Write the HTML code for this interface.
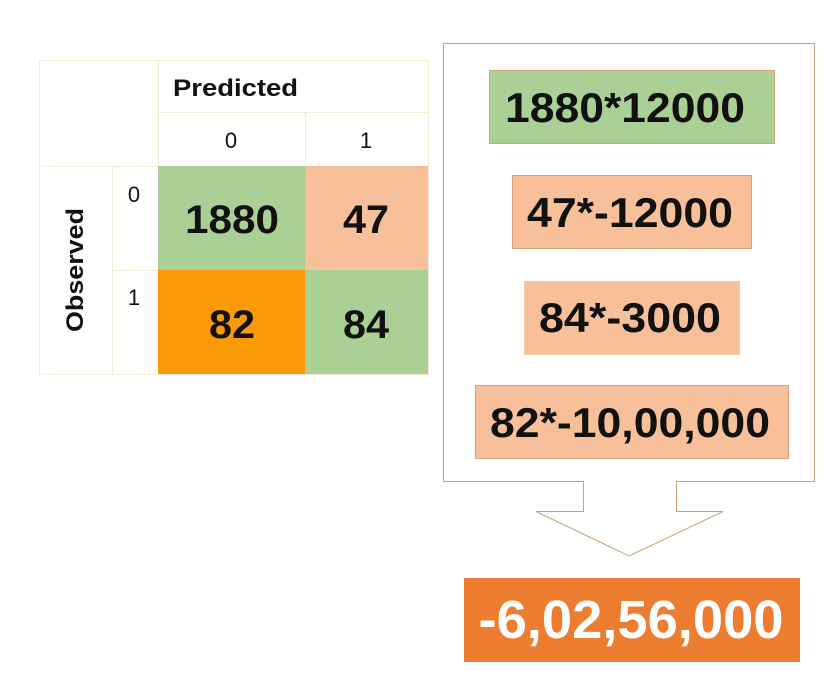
<!DOCTYPE html>
<html><head><meta charset="utf-8">
<style>
html,body{margin:0;padding:0;background:#fff;}
svg{display:block;font-family:"Liberation Sans",sans-serif;}
</style></head>
<body>
<svg width="834" height="687" viewBox="0 0 834 687">
  <g stroke="#f3ecd8" stroke-width="1">
    <rect x="39.5" y="60.5" width="389" height="314" fill="#fff"/>
    <line x1="158.5" y1="60" x2="158.5" y2="374"/>
    <line x1="112.5" y1="166" x2="112.5" y2="374"/>
    <line x1="158" y1="112.5" x2="428" y2="112.5"/>
    <line x1="39" y1="166.5" x2="428" y2="166.5"/>
    <line x1="305.5" y1="112" x2="305.5" y2="166"/>
    <line x1="112" y1="270.5" x2="158" y2="270.5"/>
    <rect x="158" y="166" width="147" height="104" fill="#abd096" stroke="none"/>
    <rect x="305" y="166" width="123" height="104" fill="#f7c09a" stroke="none"/>
    <rect x="158" y="270" width="147" height="104" fill="#fb9906" stroke="none"/>
    <rect x="305" y="270" width="123" height="104" fill="#abd096" stroke="none"/>
  </g>
  <g fill="#111">
    <text x="173" y="96" font-size="24" font-weight="bold" textLength="125" lengthAdjust="spacingAndGlyphs">Predicted</text>
    <text x="231" y="148" font-size="22" text-anchor="middle">0</text>
    <text x="366" y="148" font-size="22" text-anchor="middle">1</text>
    <text x="134" y="202" font-size="22" text-anchor="middle">0</text>
    <text x="134" y="305" font-size="22" text-anchor="middle">1</text>
    <text transform="translate(83,270) rotate(-90)" font-size="24" font-weight="bold" text-anchor="middle" textLength="124" lengthAdjust="spacingAndGlyphs">Observed</text>
    <text x="232" y="233" font-size="40" font-weight="bold" text-anchor="middle" textLength="94" lengthAdjust="spacingAndGlyphs">1880</text>
    <text x="366" y="233" font-size="40" font-weight="bold" text-anchor="middle" textLength="46" lengthAdjust="spacingAndGlyphs">47</text>
    <text x="232" y="338" font-size="40" font-weight="bold" text-anchor="middle" textLength="46" lengthAdjust="spacingAndGlyphs">82</text>
    <text x="366" y="338" font-size="40" font-weight="bold" text-anchor="middle" textLength="46" lengthAdjust="spacingAndGlyphs">84</text>
  </g>
  <path d="M443.5,43.5 H814.5 V481.5 H676.5 V511.5 H723 L629,556 L536,511.5 H583.5 V481.5 H443.5 Z" fill="#fff" stroke="#c9a27a" stroke-width="1"/>
  <g>
    <rect x="489.5" y="70.5" width="285" height="73" fill="#abd096" stroke="#d5a27a"/>
    <text x="625" y="122" font-size="42" font-weight="bold" text-anchor="middle" fill="#111" textLength="240" lengthAdjust="spacingAndGlyphs">1880*12000</text>
    <rect x="512.5" y="175.5" width="239" height="73" fill="#f7c09a" stroke="#d5a27a"/>
    <text x="630" y="227" font-size="42" font-weight="bold" text-anchor="middle" fill="#111" textLength="206" lengthAdjust="spacingAndGlyphs">47*-12000</text>
    <rect x="524.5" y="281.5" width="215" height="73" fill="#f7c09a" stroke="#f3cfa8"/>
    <text x="630" y="332" font-size="42" font-weight="bold" text-anchor="middle" fill="#111" textLength="182" lengthAdjust="spacingAndGlyphs">84*-3000</text>
    <rect x="475.5" y="385.5" width="313" height="73" fill="#f7c09a" stroke="#d5a27a"/>
    <text x="630" y="437" font-size="42" font-weight="bold" text-anchor="middle" fill="#111" textLength="280" lengthAdjust="spacingAndGlyphs">82*-10,00,000</text>
  </g>
  <rect x="464" y="578" width="336" height="84" fill="#ed7d31"/>
  <text x="631" y="638" font-size="54" font-weight="bold" text-anchor="middle" fill="#fff" textLength="305" lengthAdjust="spacingAndGlyphs">-6,02,56,000</text>
</svg>
</body></html>
